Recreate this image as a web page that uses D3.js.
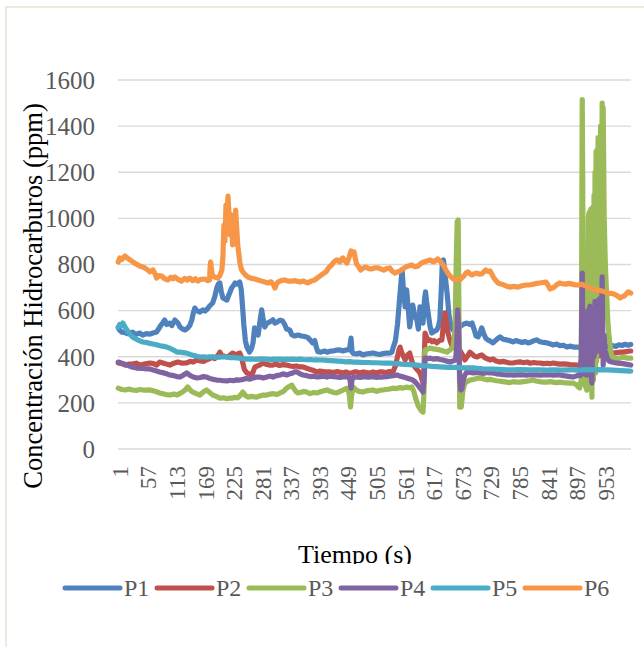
<!DOCTYPE html>
<html><head><meta charset="utf-8">
<script src="https://cdn.jsdelivr.net/npm/d3@7/dist/d3.min.js"></script>
<style>body{margin:0;background:#fff}svg{display:block}</style>
</head><body>
<svg id="c" width="644" height="647"></svg>
<script>
// ---- data ----
const categories = d3.range(1, 1006); // Tiempo (s)
const xTickLabels = [1,57,113,169,225,281,337,393,449,505,561,617,673,729,785,841,897,953];
const yTicks = [0,200,400,600,800,1000,1200,1400,1600];
const seriesNames = ["P1","P2","P3","P4","P5","P6"];
const seriesColors = ["#4F81BD","#C0504D","#9BBB59","#8064A2","#4BACC6","#F79646"];

const P1 = [[1,525],[4,515],[8,507],[14,505],[19,500],[24,503],[29,507],[33,500],[37,498],[43,503],[49,494],[56,500],[63,498],[69,503],[76,507],[80,520],[84,535],[88,546],[92,559],[96,540],[102,546],[106,535],[112,559],[118,546],[122,529],[127,520],[132,516],[137,525],[141,535],[145,559],[148,590],[151,611],[155,600],[161,594],[167,603],[171,598],[176,608],[180,620],[186,633],[190,660],[194,698],[197,715],[200,720],[203,680],[206,655],[210,650],[214,646],[217,665],[220,680],[223,698],[227,710],[230,720],[234,715],[239,724],[242,690],[245,603],[247,540],[250,470],[253,442],[258,420],[262,435],[265,460],[268,525],[272,505],[275,494],[279,560],[282,603],[285,560],[288,529],[292,545],[298,551],[304,560],[308,546],[312,550],[318,559],[323,555],[327,540],[331,520],[337,516],[341,495],[347,490],[353,494],[360,490],[366,488],[372,484],[378,470],[382,460],[386,470],[389,442],[392,422],[398,420],[405,425],[410,420],[416,424],[422,425],[429,429],[435,430],[441,425],[449,430],[454,432],[457,481],[459,420],[462,414],[468,412],[474,416],[480,408],[486,412],[493,414],[500,416],[508,412],[514,410],[520,414],[527,416],[533,416],[537,420],[540,442],[544,470],[548,540],[551,620],[554,700],[557,776],[560,680],[563,616],[566,690],[569,610],[572,529],[575,580],[578,624],[582,575],[586,559],[589,520],[592,616],[595,580],[598,546],[601,650],[603,681],[605,640],[608,590],[612,530],[615,503],[620,510],[625,516],[628,530],[631,559],[634,700],[636,815],[638,820],[641,760],[645,680],[649,580],[653,530],[657,516],[663,525],[670,529],[676,540],[684,546],[690,540],[694,546],[698,520],[702,490],[706,486],[710,505],[713,525],[717,500],[721,480],[725,473],[730,468],[735,460],[740,470],[745,480],[749,486],[755,476],[762,473],[768,470],[774,464],[780,470],[786,466],[792,462],[798,466],[804,460],[810,464],[816,470],[821,473],[827,465],[834,462],[841,460],[847,456],[853,451],[860,455],[866,448],[873,450],[880,442],[886,446],[893,442],[900,442],[906,440],[912,442],[920,440],[930,442],[940,446],[950,448],[958,444],[964,446],[970,448],[976,445],[982,452],[988,449],[994,454],[1000,450],[1005,453]];

const P2 = [[1,373],[8,370],[15,364],[22,368],[29,368],[36,372],[44,364],[52,368],[63,373],[70,370],[76,364],[82,377],[90,372],[96,368],[102,364],[110,372],[118,377],[126,372],[135,373],[142,380],[148,377],[155,386],[162,382],[168,380],[174,386],[180,392],[186,399],[190,392],[194,400],[198,412],[200,420],[204,405],[209,402],[214,399],[219,405],[225,416],[230,410],[235,412],[239,416],[242,400],[245,373],[248,345],[253,330],[258,325],[263,321],[266,340],[269,356],[274,360],[279,365],[284,373],[290,368],[297,364],[304,364],[310,368],[317,362],[324,366],[331,364],[338,360],[344,358],[350,360],[357,356],[363,356],[370,350],[377,345],[384,340],[390,334],[396,338],[403,336],[410,334],[416,334],[423,332],[430,336],[436,332],[441,330],[447,334],[453,328],[459,331],[464,334],[468,334],[474,330],[481,334],[488,331],[494,330],[500,334],[507,330],[513,334],[519,334],[526,331],[532,336],[539,334],[544,360],[548,400],[551,430],[553,442],[556,420],[560,400],[563,386],[566,400],[569,410],[572,416],[575,390],[578,370],[582,356],[586,345],[589,338],[592,330],[595,310],[598,286],[600,350],[602,503],[605,485],[608,470],[612,473],[616,465],[620,470],[625,460],[630,470],[635,473],[638,540],[641,590],[644,550],[647,503],[651,470],[654,452],[657,442],[662,436],[666,432],[670,429],[675,410],[680,386],[685,402],[690,420],[695,410],[699,402],[704,399],[709,405],[713,408],[718,398],[723,392],[729,386],[735,390],[741,382],[749,377],[755,380],[762,376],[768,373],[774,373],[781,376],[788,378],[795,374],[802,377],[808,372],[815,375],[821,373],[827,373],[834,370],[841,372],[847,370],[853,373],[860,370],[866,368],[873,369],[880,368],[886,366],[893,365],[900,364],[906,362],[910,400],[912,360],[920,360],[930,380],[940,400],[950,410],[958,414],[965,416],[970,416],[978,418],[985,420],[990,420],[996,422],[1000,424],[1005,425]];

const P3 = [[1,264],[8,258],[15,256],[22,260],[29,256],[36,254],[44,258],[52,255],[63,256],[70,252],[76,248],[82,243],[88,240],[95,236],[102,234],[110,238],[116,234],[121,240],[127,247],[132,256],[137,269],[142,255],[147,247],[154,240],[161,234],[168,248],[174,256],[180,245],[186,234],[193,228],[200,221],[207,222],[214,218],[220,221],[225,221],[230,224],[235,222],[240,232],[245,247],[250,232],[255,225],[262,228],[268,226],[272,225],[278,230],[285,234],[292,234],[298,238],[305,240],[312,236],[318,243],[325,250],[330,262],[335,270],[341,277],[345,262],[349,250],[353,243],[358,245],[364,250],[370,247],[377,240],[384,245],[390,243],[397,248],[403,252],[410,256],[416,250],[423,245],[429,243],[436,250],[442,256],[447,262],[451,264],[454,230],[456,182],[458,230],[461,269],[466,258],[472,250],[480,247],[487,252],[494,254],[500,256],[507,250],[513,254],[519,256],[526,258],[533,260],[539,264],[546,262],[552,266],[559,264],[565,268],[571,266],[576,269],[580,250],[583,225],[586,204],[589,185],[592,175],[595,165],[598,160],[600,250],[602,429],[606,432],[612,438],[618,434],[625,432],[631,429],[638,425],[645,420],[651,430],[657,442],[661,520],[663,800],[665,985],[667,993],[668,700],[670,182],[673,182],[676,250],[680,286],[685,292],[690,299],[697,302],[704,306],[710,308],[717,304],[723,300],[729,302],[735,299],[742,296],[749,294],[755,292],[762,290],[768,288],[775,292],[782,290],[788,290],[795,292],[801,294],[807,296],[813,299],[820,295],[827,292],[834,290],[841,290],[847,292],[853,290],[860,288],[866,290],[873,288],[880,287],[886,286],[892,286],[898,280],[902,270],[905,264],[908,300],[910,1515],[912,700],[913,300],[915,280],[917,270],[919,255],[921,300],[922,1000],[923,1023],[924,500],[925,1030],[926,330],[927,1040],[928,400],[929,225],[930,1045],[931,1049],[932,300],[933,1100],[934,350],[935,1200],[936,330],[937,1290],[938,380],[939,1297],[940,500],[941,1350],[942,600],[943,1300],[944,650],[946,1400],[947,700],[949,1500],[950,900],[951,1480],[953,1000],[955,820],[956,760],[958,659],[960,560],[962,500],[964,460],[966,420],[968,399],[972,395],[980,392],[990,398],[1000,394],[1005,394]];

const P4 = [[1,377],[8,372],[18,364],[27,356],[37,351],[47,350],[56,347],[63,347],[70,342],[76,338],[82,334],[90,330],[96,326],[102,321],[110,318],[116,314],[122,312],[128,320],[135,330],[141,320],[148,312],[155,308],[162,310],[168,314],[174,312],[180,306],[187,302],[194,299],[200,298],[207,296],[214,295],[220,298],[227,296],[233,300],[239,299],[246,302],[252,306],[259,303],[265,308],[272,312],[278,312],[285,308],[292,312],[298,316],[304,312],[311,318],[318,321],[324,326],[331,321],[337,326],[343,330],[347,334],[351,334],[357,326],[363,321],[370,318],[377,314],[384,316],[390,312],[397,314],[403,316],[410,312],[416,316],[423,314],[429,312],[435,310],[441,312],[447,314],[453,312],[455,300],[457,264],[459,300],[462,312],[468,312],[475,310],[481,314],[488,312],[494,312],[500,314],[507,310],[513,312],[519,312],[526,314],[533,316],[540,318],[547,321],[553,316],[560,312],[566,308],[572,304],[578,299],[583,290],[588,277],[593,262],[598,247],[600,300],[602,394],[607,392],[612,394],[618,390],[625,392],[631,388],[637,386],[644,382],[651,377],[657,382],[662,386],[664,450],[666,603],[668,500],[670,300],[672,256],[674,260],[677,300],[680,320],[684,334],[690,332],[697,330],[704,332],[710,330],[717,328],[723,332],[729,330],[735,330],[742,326],[749,324],[755,322],[762,321],[768,322],[775,320],[782,321],[788,321],[795,322],[801,320],[807,322],[813,321],[820,322],[827,320],[834,321],[841,321],[847,322],[853,320],[860,321],[866,321],[873,318],[880,316],[886,314],[892,312],[898,316],[902,320],[906,318],[908,400],[910,763],[911,500],[912,330],[915,324],[919,321],[921,600],[923,350],[925,620],[927,330],[929,286],[931,603],[933,400],[935,640],[937,420],[939,611],[941,450],[943,650],[945,633],[947,420],[949,746],[951,363],[953,494],[955,420],[958,399],[962,382],[966,378],[972,375],[980,372],[990,370],[1000,366],[1005,364]];

const P5 = [[1,529],[4,540],[7,536],[10,546],[14,530],[18,516],[23,500],[29,486],[35,478],[42,470],[49,464],[56,462],[63,458],[69,455],[76,452],[83,448],[90,445],[96,442],[103,436],[110,428],[116,420],[122,420],[128,418],[135,416],[142,410],[148,406],[155,402],[161,399],[168,400],[174,398],[180,400],[186,399],[193,397],[200,398],[207,400],[214,399],[220,396],[227,397],[233,395],[239,394],[246,392],[252,390],[259,391],[265,390],[272,389],[278,391],[285,390],[292,390],[298,388],[305,390],[312,389],[318,390],[325,388],[331,390],[337,389],[343,390],[350,388],[357,390],[363,388],[370,387],[377,388],[384,386],[390,387],[396,386],[402,386],[410,384],[418,383],[425,382],[432,381],[440,380],[447,378],[455,379],[462,377],[468,377],[476,376],[484,375],[492,375],[500,374],[508,374],[516,373],[524,372],[533,373],[540,371],[548,370],[556,368],[564,367],[572,366],[580,365],[586,364],[593,362],[600,361],[608,360],[616,358],[624,357],[631,356],[640,355],[650,354],[660,354],[670,353],[680,352],[690,352],[696,352],[705,350],[715,348],[725,347],[735,346],[745,345],[755,344],[762,343],[775,343],[790,344],[805,343],[820,343],[827,343],[840,342],[855,343],[870,342],[885,343],[892,343],[905,342],[920,344],[935,343],[945,344],[958,343],[970,342],[985,340],[995,339],[1005,338]];

const P6 = [[1,811],[4,828],[8,822],[14,837],[19,828],[24,820],[29,812],[33,806],[38,800],[43,793],[48,790],[53,785],[58,778],[63,768],[69,776],[73,760],[76,741],[81,752],[86,750],[92,738],[98,733],[104,745],[108,738],[112,746],[118,735],[125,728],[131,740],[136,732],[141,741],[147,730],[152,738],[157,728],[163,736],[171,737],[176,730],[180,733],[181,790],[182,811],[184,770],[186,750],[191,745],[196,741],[200,752],[204,776],[206,830],[208,971],[210,900],[212,1058],[214,1000],[216,1097],[218,1015],[220,928],[222,960],[223,1015],[225,885],[227,900],[229,928],[231,1036],[233,960],[235,885],[237,850],[239,811],[242,780],[245,768],[250,755],[255,746],[262,740],[269,737],[275,733],[282,728],[288,724],[294,720],[300,725],[305,712],[308,698],[311,715],[314,724],[320,730],[327,733],[334,728],[341,728],[348,730],[357,724],[364,728],[372,720],[379,728],[386,733],[391,742],[396,750],[402,760],[408,768],[413,785],[419,798],[424,812],[429,820],[435,811],[438,822],[441,828],[445,815],[449,806],[453,830],[457,859],[460,850],[463,854],[466,820],[468,802],[472,790],[476,776],[481,785],[486,789],[492,782],[498,781],[504,786],[510,785],[516,780],[521,776],[527,782],[533,785],[538,770],[543,763],[548,768],[553,772],[558,780],[564,789],[570,794],[576,798],[582,790],[588,793],[594,805],[600,811],[606,815],[612,820],[616,814],[619,811],[623,818],[627,824],[631,815],[635,806],[639,792],[643,776],[647,762],[651,750],[656,740],[661,733],[666,736],[670,733],[674,742],[678,750],[682,762],[686,768],[690,760],[694,755],[699,760],[704,763],[709,758],[713,759],[717,768],[721,776],[725,770],[729,772],[733,758],[737,741],[741,730],[745,720],[751,715],[757,711],[762,706],[768,702],[776,705],[784,702],[792,708],[800,711],[808,712],[815,715],[821,718],[827,720],[833,722],[839,724],[843,710],[847,694],[851,698],[855,702],[860,712],[866,720],[872,716],[878,715],[884,718],[890,715],[896,712],[902,711],[908,714],[913,711],[919,705],[925,698],[931,694],[937,689],[943,688],[949,685],[955,680],[960,676],[966,675],[972,672],[978,665],[984,655],[988,660],[992,663],[996,672],[1000,681],[1003,678],[1005,676]];

const seriesData = [P1,P2,P3,P4,P5,P6];

// ---- chart ----
const svg = d3.select("#c");
const W = 644, H = 647;
svg.append("rect").attr("width",W).attr("height",H).attr("fill","#fff");
svg.append("rect").attr("x",6).attr("y",7).attr("width",W+20).attr("height",H+20)
  .attr("fill","none").attr("stroke","#EEEAE0").attr("stroke-width",2);

const plot = {left:118, right:631, top:80, bottom:449};
const x = d3.scaleBand().domain(categories).range([plot.left, plot.right]);
const bw = x.bandwidth();
const y = d3.scaleLinear().domain([0,1600]).range([plot.bottom, plot.top]);
const serif = "'Liberation Serif','Times New Roman',serif";

// gridlines
svg.append("g").selectAll("line").data(yTicks).join("line")
  .attr("x1",plot.left).attr("x2",plot.right)
  .attr("y1",d=>y(d)).attr("y2",d=>y(d))
  .attr("stroke","#D9D9D9").attr("stroke-width",1.3);

// y tick labels
svg.append("g").selectAll("text").data(yTicks).join("text")
  .attr("x",95).attr("y",d=>y(d)).attr("dy","0.35em")
  .attr("text-anchor","end").attr("font-family",serif).attr("font-size",25)
  .attr("fill","#595959").text(d=>d);

// x tick labels
svg.append("g").selectAll("text").data(xTickLabels).join("text")
  .attr("transform",d=>`translate(${x(d)+bw/2+1.5},466) rotate(-90)`)
  .attr("dy","0.35em").attr("text-anchor","end")
  .attr("font-family",serif).attr("font-size",23).attr("fill","#595959").text(d=>d);

// lines
const line = d3.line().x(d=>x(d[0])+bw/2).y(d=>y(d[1]));
svg.append("g").selectAll("path").data(seriesData).join("path")
  .attr("d",line).attr("fill","none")
  .attr("stroke",(d,i)=>seriesColors[i]).attr("stroke-width",5.2)
  .attr("stroke-linejoin","round").attr("stroke-linecap","round");

// axis titles
svg.append("text").attr("transform","translate(42,296) rotate(-90)")
  .attr("text-anchor","middle").attr("font-family",serif).attr("font-size",26.5)
  .attr("fill","#000").text("Concentración Hidrocarburos (ppm)");
svg.append("text").attr("x",355).attr("y",563).attr("text-anchor","middle")
  .attr("font-family",serif).attr("font-size",26).attr("fill","#000").text("Tiempo (s)");

// legend (covers lower part of x title, as in the original)
svg.append("rect").attr("x",40).attr("y",564).attr("width",590).attr("height",48).attr("fill","#fff");
const lg = svg.append("g").selectAll("g").data(seriesNames).join("g")
  .attr("transform",(d,i)=>`translate(${65+i*92},588)`);
lg.append("line").attr("x1",0).attr("x2",55).attr("y1",0).attr("y2",0)
  .attr("stroke",(d,i)=>seriesColors[i]).attr("stroke-width",5).attr("stroke-linecap","round");
lg.append("text").attr("x",59).attr("y",0).attr("dy","0.35em")
  .attr("font-family",serif).attr("font-size",24).attr("fill","#595959").text(d=>d);
</script>
</body></html>
